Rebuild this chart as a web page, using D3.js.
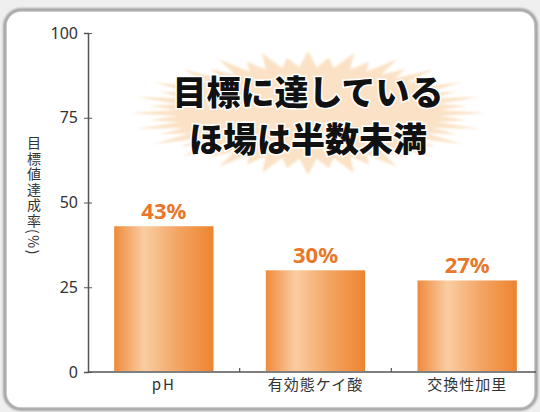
<!DOCTYPE html>
<html>
<head>
<meta charset="utf-8">
<script src="https://cdn.jsdelivr.net/npm/d3@7"></script>
<style>
	body { margin: 0; background: #efefef; }
	svg { display: block; }
	text { font-family: "Noto Sans CJK JP", "Noto Sans", sans-serif; }
</style>
</head>
<body>
<div class="chart"></div>
<script>
const svgWidth = 540
const svgHeight = 412

// data
const categories = ["pH", "有効態ケイ酸", "交換性加里"]
const values = [43, 30, 27]
const yTicks = [0, 25, 50, 75, 100]
const titleLines = ["目標に達している", "ほ場は半数未満"]
const yLabel = "目標値達成率(%)"

let margin = { top: 33, right: 0, left: 88, bottom: 40 }

let svg = d3.select(".chart")
	.append("svg")
	.attr("width", svgWidth)
	.attr("height", svgHeight)

let defs = svg.append("defs")

let grad = defs.append("linearGradient")
	.attr("id", "barGrad")
	.attr("x1", "0%").attr("x2", "100%")
	.attr("y1", "0%").attr("y2", "0%")
grad.append("stop").attr("offset", "0%").attr("stop-color", "#ef8a3c")
grad.append("stop").attr("offset", "30%").attr("stop-color", "#f9cda2")
grad.append("stop").attr("offset", "65%").attr("stop-color", "#f3a462")
grad.append("stop").attr("offset", "100%").attr("stop-color", "#ed8430")

let shadow = defs.append("filter").attr("id", "soft")
shadow.append("feGaussianBlur").attr("stdDeviation", 0.8)

// panel
svg.append("rect")
	.attr("x", 5)
	.attr("y", 10)
	.attr("width", 531)
	.attr("height", 399)
	.attr("rx", 16)
	.attr("fill", "#ffffff")
	.attr("stroke", "#9c9c9c")
	.attr("stroke-width", 3.5)
	.attr("filter", "url(#soft)")
svg.append("rect")
	.attr("x", 7)
	.attr("y", 12)
	.attr("width", 527)
	.attr("height", 395)
	.attr("rx", 14)
	.attr("fill", "#ffffff")

let y = d3.scaleLinear()
	.domain([0, 100])
	.range([372, 33])

let x = d3.scaleBand()
	.domain(categories)
	.range([88, 543])
	.padding(0)

// starburst behind the title
let cx = 308, cy = 113
let spikes = 48
let burstPts = d3.range(spikes * 2).map(i => {
	let a = (i / (spikes * 2)) * Math.PI * 2
	let outer = i % 2 === 0
	let k = outer ? (i % 4 === 0 ? 1.0 : 0.9) : 0.74
	let rx = 178 * k, ry = 62 * k
	return [cx + rx * Math.cos(a), cy + ry * Math.sin(a)]
})
svg.append("path")
	.attr("d", d3.line().curve(d3.curveLinearClosed)(burstPts))
	.attr("fill", "#fbe2c6")
	.attr("filter", "url(#soft)")

let titleGroup = svg.append("g")
titleLines.forEach((t, i) => {
	titleGroup.append("text")
		.attr("x", cx)
		.attr("y", 105 + i * 47)
		.attr("text-anchor", "middle")
		.attr("font-size", 34)
		.attr("font-weight", 900)
		.attr("fill", "#111")
		.attr("stroke", "#ffffff")
		.attr("stroke-width", 3)
		.attr("paint-order", "stroke")
		.text(t)
})

// y axis
let leftAxis = d3.axisLeft(y)
	.tickValues(yTicks)
	.tickSize(4)
	.tickPadding(6)

let yAxis = svg.append("g")
	.attr("transform", `translate(${margin.left}, 0)`)
	.call(leftAxis)
yAxis.select(".domain").attr("stroke", "#555").attr("stroke-width", 1.5)
yAxis.selectAll(".tick line").attr("stroke", "#555").attr("x2", -4).attr("x1", 4)
yAxis.selectAll(".tick text")
	.attr("font-size", 16)
	.attr("fill", "#333")
	.style("font-family", "'Noto Sans', sans-serif")

// y label, vertical
svg.append("text")
	.attr("x", 34)
	.attr("y", 136)
	.attr("font-size", 14)
	.attr("fill", "#333")
	.attr("letter-spacing", 1.5)
	.style("writing-mode", "vertical-rl")
	.style("text-orientation", "mixed")
	.text(yLabel)

// x axis line
svg.append("line")
	.attr("x1", 88)
	.attr("x2", 536)
	.attr("y1", y(0))
	.attr("y2", y(0))
	.attr("stroke", "#555")
	.attr("stroke-width", 1.5)

// separators between categories
svg.selectAll(".sep")
	.data(categories.slice(1))
	.enter()
	.append("line")
	.attr("x1", d => x(d))
	.attr("x2", d => x(d))
	.attr("y1", y(0) - 4)
	.attr("y2", y(0))
	.attr("stroke", "#555")
	.attr("stroke-width", 1.2)

let barW = x.bandwidth() * 0.655

svg.selectAll(".bar")
	.data(values)
	.enter()
	.append("rect")
	.attr("x", (d, i) => x(categories[i]) + x.bandwidth() / 2 - barW / 2)
	.attr("y", d => y(d))
	.attr("width", barW)
	.attr("height", d => y(0) - y(d) - 1)
	.attr("fill", "url(#barGrad)")

svg.selectAll(".val")
	.data(values)
	.enter()
	.append("text")
	.attr("x", (d, i) => x(categories[i]) + x.bandwidth() / 2)
	.attr("y", d => y(d) - 7)
	.attr("text-anchor", "middle")
	.attr("font-size", 22)
	.attr("font-weight", 700)
	.attr("fill", "#e8772a")
	.style("font-family", "'Noto Sans', sans-serif")
	.text(d => d + "%")

svg.selectAll(".cat")
	.data(categories)
	.enter()
	.append("text")
	.attr("x", d => x(d) + x.bandwidth() / 2)
	.attr("y", 390)
	.attr("text-anchor", "middle")
	.attr("font-size", 15)
	.attr("fill", "#333")
	.attr("letter-spacing", (d, i) => i === 0 ? 2 : 1)
	.text(d => d)
</script>
</body>
</html>
